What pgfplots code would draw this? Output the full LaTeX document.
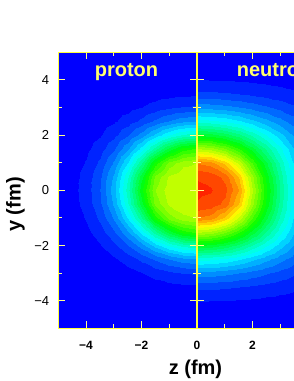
\documentclass[border=0pt]{standalone}
\usepackage{fontspec}
\setmainfont{Liberation Sans}
\usepackage{pgfplots}
\usepackage{pgfplotstable}
\pgfplotsset{compat=1.18}
\definecolor{axc}{RGB}{255,255,60}
\definecolor{tkc}{RGB}{255,255,140}
\definecolor{labc}{RGB}{255,255,110}
\pgfplotsset{colormap={rb}{rgb255=(0,0,255) rgb255=(0,255,255) rgb255=(0,255,0) rgb255=(255,255,0) rgb255=(255,0,0)}}

\pgfplotstableread{
z y v
-5 -5 0
-4.5 -5 0
-4 -5 0
-3.5 -5 0
-3 -5 0
-2.5 -5 0
-2 -5 0
-1.5 -5 0
-1 -5 0.001
-0.5 -5 0.001
0 -5 0.001
-5 -4.5 0
-4.5 -4.5 0
-4 -4.5 0
-3.5 -4.5 0
-3 -4.5 0
-2.5 -4.5 0.001
-2 -4.5 0.001
-1.5 -4.5 0.002
-1 -4.5 0.002
-0.5 -4.5 0.002
0 -4.5 0.002
-5 -4 0
-4.5 -4 0
-4 -4 0
-3.5 -4 0.001
-3 -4 0.001
-2.5 -4 0.003
-2 -4 0.004
-1.5 -4 0.006
-1 -4 0.007
-0.5 -4 0.008
0 -4 0.009
-5 -3.5 0
-4.5 -3.5 0.001
-4 -3.5 0.001
-3.5 -3.5 0.002
-3 -3.5 0.005
-2.5 -3.5 0.008
-2 -3.5 0.012
-1.5 -3.5 0.017
-1 -3.5 0.022
-0.5 -3.5 0.026
0 -3.5 0.027
-5 -3 0.001
-4.5 -3 0.001
-4 -3 0.003
-3.5 -3 0.007
-3 -3 0.013
-2.5 -3 0.021
-2 -3 0.033
-1.5 -3 0.046
-1 -3 0.059
-0.5 -3 0.068
0 -3 0.071
-5 -2.5 0.001
-4.5 -2.5 0.003
-4 -2.5 0.007
-3.5 -2.5 0.015
-3 -2.5 0.029
-2.5 -2.5 0.049
-2 -2.5 0.076
-1.5 -2.5 0.106
-1 -2.5 0.135
-0.5 -2.5 0.156
0 -2.5 0.164
-5 -2 0.003
-4.5 -2 0.006
-4 -2 0.015
-3.5 -2 0.030
-3 -2 0.057
-2.5 -2 0.097
-2 -2 0.149
-1.5 -2 0.209
-1 -2 0.265
-0.5 -2 0.307
0 -2 0.322
-5 -1.5 0.004
-4.5 -1.5 0.011
-4 -1.5 0.025
-3.5 -1.5 0.051
-3 -1.5 0.096
-2.5 -1.5 0.164
-2 -1.5 0.252
-1.5 -1.5 0.353
-1 -1.5 0.450
-0.5 -1.5 0.519
0 -1.5 0.542
-5 -1 0.006
-4.5 -1 0.016
-4 -1 0.036
-3.5 -1 0.075
-3 -1 0.140
-2.5 -1 0.238
-2 -1 0.368
-1.5 -1 0.515
-1 -1 0.614
-0.5 -1 0.656
0 -1 0.667
-5 -0.5 0.008
-4.5 -0.5 0.020
-4 -0.5 0.046
-3.5 -0.5 0.094
-3 -0.5 0.176
-2.5 -0.5 0.299
-2 -0.5 0.461
-1.5 -0.5 0.609
-1 -0.5 0.673
-0.5 -0.5 0.694
0 -0.5 0.697
-5 0 0.009
-4.5 0 0.022
-4 0 0.049
-3.5 0 0.101
-3 0 0.190
-2.5 0 0.322
-2 0 0.497
-1.5 0 0.633
-1 0 0.686
-0.5 0 0.699
0 0 0.700
-5 0.5 0.008
-4.5 0.5 0.020
-4 0.5 0.046
-3.5 0.5 0.094
-3 0.5 0.176
-2.5 0.5 0.299
-2 0.5 0.461
-1.5 0.5 0.609
-1 0.5 0.673
-0.5 0.5 0.694
0 0.5 0.697
-5 1 0.006
-4.5 1 0.016
-4 1 0.036
-3.5 1 0.075
-3 1 0.140
-2.5 1 0.238
-2 1 0.368
-1.5 1 0.515
-1 1 0.614
-0.5 1 0.656
0 1 0.667
-5 1.5 0.004
-4.5 1.5 0.011
-4 1.5 0.025
-3.5 1.5 0.051
-3 1.5 0.096
-2.5 1.5 0.164
-2 1.5 0.252
-1.5 1.5 0.353
-1 1.5 0.450
-0.5 1.5 0.519
0 1.5 0.542
-5 2 0.003
-4.5 2 0.006
-4 2 0.015
-3.5 2 0.030
-3 2 0.057
-2.5 2 0.097
-2 2 0.149
-1.5 2 0.209
-1 2 0.265
-0.5 2 0.307
0 2 0.322
-5 2.5 0.001
-4.5 2.5 0.003
-4 2.5 0.007
-3.5 2.5 0.015
-3 2.5 0.029
-2.5 2.5 0.049
-2 2.5 0.076
-1.5 2.5 0.106
-1 2.5 0.135
-0.5 2.5 0.156
0 2.5 0.164
-5 3 0.001
-4.5 3 0.001
-4 3 0.003
-3.5 3 0.007
-3 3 0.013
-2.5 3 0.021
-2 3 0.033
-1.5 3 0.046
-1 3 0.059
-0.5 3 0.068
0 3 0.071
-5 3.5 0
-4.5 3.5 0.001
-4 3.5 0.001
-3.5 3.5 0.002
-3 3.5 0.005
-2.5 3.5 0.008
-2 3.5 0.012
-1.5 3.5 0.017
-1 3.5 0.022
-0.5 3.5 0.026
0 3.5 0.027
-5 4 0
-4.5 4 0
-4 4 0
-3.5 4 0.001
-3 4 0.001
-2.5 4 0.003
-2 4 0.004
-1.5 4 0.006
-1 4 0.007
-0.5 4 0.008
0 4 0.009
-5 4.5 0
-4.5 4.5 0
-4 4.5 0
-3.5 4.5 0
-3 4.5 0
-2.5 4.5 0.001
-2 4.5 0.001
-1.5 4.5 0.002
-1 4.5 0.002
-0.5 4.5 0.002
0 4.5 0.002
-5 5 0
-4.5 5 0
-4 5 0
-3.5 5 0
-3 5 0
-2.5 5 0
-2 5 0
-1.5 5 0
-1 5 0.001
-0.5 5 0.001
0 5 0.001
}\protontab

\pgfplotstableread{
z y v
0 -5 0.005
0.5 -5 0.005
1 -5 0.004
1.5 -5 0.004
2 -5 0.004
2.5 -5 0.004
3 -5 0.003
3.5 -5 0.003
0 -4.5 0.013
0.5 -4.5 0.013
1 -4.5 0.013
1.5 -4.5 0.012
2 -4.5 0.011
2.5 -4.5 0.010
3 -4.5 0.009
3.5 -4.5 0.008
0 -4 0.035
0.5 -4 0.033
1 -4 0.032
1.5 -4 0.030
2 -4 0.028
2.5 -4 0.025
3 -4 0.022
3.5 -4 0.019
0 -3.5 0.075
0.5 -3.5 0.074
1 -3.5 0.071
1.5 -3.5 0.067
2 -3.5 0.061
2.5 -3.5 0.054
3 -3.5 0.047
3.5 -3.5 0.040
0 -3 0.153
0.5 -3 0.151
1 -3 0.144
1.5 -3 0.133
2 -3 0.120
2.5 -3 0.104
3 -3 0.088
3.5 -3 0.072
0 -2.5 0.280
0.5 -2.5 0.275
1 -2.5 0.260
1.5 -2.5 0.238
2 -2.5 0.209
2.5 -2.5 0.178
3 -2.5 0.146
3.5 -2.5 0.115
0 -2 0.458
0.5 -2 0.448
1 -2 0.421
1.5 -2 0.378
2 -2 0.326
2.5 -2 0.269
3 -2 0.213
3.5 -2 0.161
0 -1.5 0.672
0.5 -1.5 0.656
1 -1.5 0.609
1.5 -1.5 0.539
2 -1.5 0.453
2.5 -1.5 0.363
3 -1.5 0.277
3.5 -1.5 0.201
0 -1 0.866
0.5 -1 0.850
1 -1 0.791
1.5 -1 0.689
2 -1 0.567
2.5 -1 0.442
3 -1 0.326
3.5 -1 0.228
0 -0.5 0.931
0.5 -0.5 0.923
1 -0.5 0.889
1.5 -0.5 0.796
2 -0.5 0.645
2.5 -0.5 0.493
3 -0.5 0.355
3.5 -0.5 0.240
0 0 0.940
0.5 0 0.936
1 0 0.911
1.5 0 0.830
2 0 0.673
2.5 0 0.510
3 0 0.364
3.5 0 0.244
0 0.5 0.931
0.5 0.5 0.923
1 0.5 0.889
1.5 0.5 0.796
2 0.5 0.645
2.5 0.5 0.493
3 0.5 0.355
3.5 0.5 0.240
0 1 0.866
0.5 1 0.850
1 1 0.791
1.5 1 0.689
2 1 0.567
2.5 1 0.442
3 1 0.326
3.5 1 0.228
0 1.5 0.672
0.5 1.5 0.656
1 1.5 0.609
1.5 1.5 0.539
2 1.5 0.453
2.5 1.5 0.363
3 1.5 0.277
3.5 1.5 0.201
0 2 0.458
0.5 2 0.448
1 2 0.421
1.5 2 0.378
2 2 0.326
2.5 2 0.269
3 2 0.213
3.5 2 0.161
0 2.5 0.280
0.5 2.5 0.275
1 2.5 0.260
1.5 2.5 0.238
2 2.5 0.209
2.5 2.5 0.178
3 2.5 0.146
3.5 2.5 0.115
0 3 0.153
0.5 3 0.151
1 3 0.144
1.5 3 0.133
2 3 0.120
2.5 3 0.104
3 3 0.088
3.5 3 0.072
0 3.5 0.075
0.5 3.5 0.074
1 3.5 0.071
1.5 3.5 0.067
2 3.5 0.061
2.5 3.5 0.054
3 3.5 0.047
3.5 3.5 0.040
0 4 0.035
0.5 4 0.033
1 4 0.032
1.5 4 0.030
2 4 0.028
2.5 4 0.025
3 4 0.022
3.5 4 0.019
0 4.5 0.013
0.5 4.5 0.013
1 4.5 0.013
1.5 4.5 0.012
2 4.5 0.011
2.5 4.5 0.010
3 4.5 0.009
3.5 4.5 0.008
0 5 0.005
0.5 5 0.005
1 5 0.004
1.5 5 0.004
2 5 0.004
2.5 5 0.004
3 5 0.003
3.5 5 0.003
}\neutrontab

\pgfplotsset{panel/.style={
  scale only axis, height=276pt,
  anchor=south west, ymin=-5, ymax=5, enlargelimits=false,
  axis on top,
  ytick={-4,-2,0,2,4}, minor tick num=1,
  tick align=inside, major tick length=7pt, minor tick length=4pt,
  tick style={color=tkc, line width=0.8pt},
  axis line style={color=axc, line width=1pt},
  point meta min=0, point meta max=1, colormap name=rb,
  xticklabel style={anchor=north, inner sep=0pt, yshift=-13pt, font=\bfseries\fontsize{12}{12}\selectfont},
  yticklabel style={anchor=east, inner sep=0pt, xshift=-9pt, font=\fontsize{13}{13}\selectfont},
}}

\begin{document}
\begin{tikzpicture}
\begin{axis}[panel, at={(58.3pt,52.7pt)}, width=138.7pt, xmin=-5, xmax=0,
  xtick={-4,-2,0}, xticklabels={−4,−2,0},
  yticklabels={−4,−2,0,2,4}]
\addplot[contour filled={number=30}, mesh/cols=11, point meta=\thisrow{v}] table[x=z, y=y] {\protontab};
\end{axis}
\begin{axis}[panel, at={(197pt,52.7pt)}, width=97pt, xmin=0, xmax=3.5,
  axis y line*=left,
  xtick={2}, xticklabels={2}, minor xtick={1,3},
  yticklabels={}]
\addplot[contour filled={number=30}, mesh/cols=8, point meta=\thisrow{v}] table[x=z, y=y] {\neutrontab};
\end{axis}
\node[anchor=base, text=labc, font=\bfseries\fontsize{20}{20}\selectfont] at (126.5pt,304.3pt) {proton};
\begin{scope}
\clip (0,0) rectangle (294pt,381pt);
\node[anchor=base west, inner sep=0pt, text=labc, font=\bfseries\fontsize{20}{20}\selectfont] at (236.7pt,304.3pt) {neutron};
\end{scope}
\node[anchor=base, font=\bfseries\fontsize{20}{20}\selectfont] at (195.5pt,6pt) {z (fm)};
\node[anchor=base, rotate=90, font=\bfseries\fontsize{20}{20}\selectfont] at (20.5pt,176.5pt) {y (fm)};
\pgfresetboundingbox
\useasboundingbox (0,0) rectangle (294pt,381pt);
\end{tikzpicture}
\end{document}
